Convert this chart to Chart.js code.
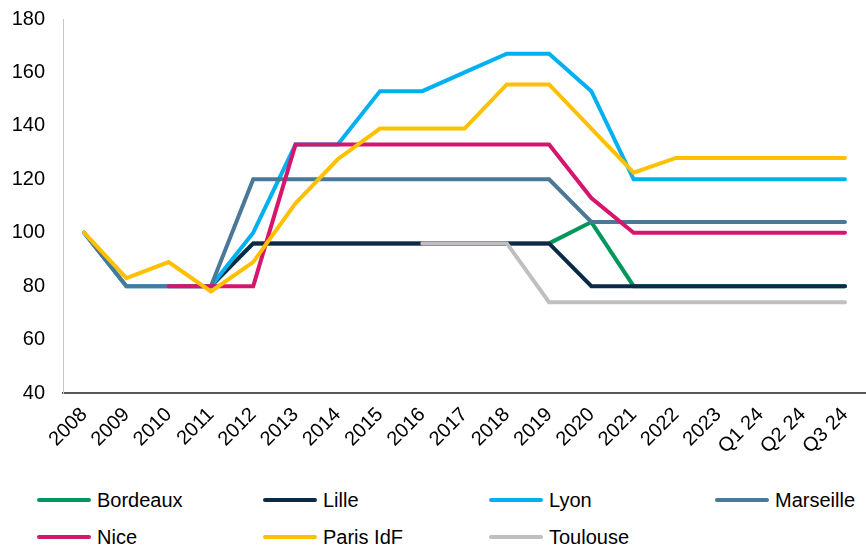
<!DOCTYPE html>
<html>
<head>
<meta charset="utf-8">
<script src="https://cdn.jsdelivr.net/npm/chart.js@4/dist/chart.umd.min.js"></script>
<style>
  html, body { margin: 0; padding: 0; background: #fff; overflow: hidden; width: 866px; height: 545px; }
  body { position: relative; }
  #wrap { position: absolute; left: 0; top: -11px; width: 872px; height: 491px; }
  #legend { position: absolute; left: 0; top: 480px; width: 866px; height: 65px; font-family: "Liberation Sans", Arial, sans-serif; font-size: 20px; color: #000; }
  .item { position: absolute; display: flex; align-items: center; height: 24px; }
  .swatch { width: 54px; height: 4px; border-radius: 2px; margin-right: 6px; }
</style>
</head>
<body>
<div id="wrap"><canvas id="c" width="872" height="491"></canvas></div>
<div id="legend"></div>
<script>
// Index values (2008 = 100) per city
const labels = ['2008','2009','2010','2011','2012','2013','2014','2015','2016','2017','2018','2019','2020','2021','2022','2023','Q1 24','Q2 24','Q3 24'];

const bordeaux  = [null, null, null, 80, 96, 96, 96, 96, 96, 96, 96, 96, 104, 80, 80, 80, 80, 80, 80];
const lille     = [null, null, null, 80, 96, 96, 96, 96, 96, 96, 96, 96, 80, 80, 80, 80, 80, 80, 80];
const lyon      = [100, 80, 80, 80, 100, 133, 133, 153, 153, 160, 167, 167, 153, 120, 120, 120, 120, 120, 120];
const marseille = [100, 80, 80, 80, 120, 120, 120, 120, 120, 120, 120, 120, 104, 104, 104, 104, 104, 104, 104];
const nice      = [null, null, 80, 80, 80, 133, 133, 133, 133, 133, 133, 133, 113, 100, 100, 100, 100, 100, 100];
const paris     = [100, 83, 89, 78, 89, 111, 127.5, 139, 139, 139, 155.5, 155.5, 139, 122.5, 128, 128, 128, 128, 128];
const toulouse  = [null, null, null, null, null, null, null, null, 96, 96, 96, 74, 74, 74, 74, 74, 74, 74, 74];

const seriesNames = ['Bordeaux', 'Lille', 'Lyon', 'Marseille', 'Nice', 'Paris IdF', 'Toulouse'];
const seriesData = [bordeaux, lille, lyon, marseille, nice, paris, toulouse];
const seriesColors = ['#00975C', '#0A2A47', '#00B0F0', '#4A7898', '#D6166C', '#FFC000', '#BFBFBF'];

const FONT = '"Liberation Sans", Arial, sans-serif';

// later series are painted over earlier ones
const datasets = seriesNames.map((name, i) => ({
  label: name,
  data: seriesData[i],
  order: seriesNames.length - i,
  borderColor: seriesColors[i],
  backgroundColor: seriesColors[i],
  borderWidth: 4,
  pointRadius: 0,
  pointHoverRadius: 0,
  tension: 0,
  fill: false,
  spanGaps: false,
  borderCapStyle: 'round',
  borderJoinStyle: 'miter'
}));

new Chart(document.getElementById('c'), {
  type: 'line',
  data: { labels, datasets },
  options: {
    responsive: false,
    animation: false,
    devicePixelRatio: 1,
    layout: { padding: { top: 9, left: 0, right: 2, bottom: 0 } },
    plugins: { legend: { display: false }, tooltip: { enabled: false } },
    scales: {
      x: {
        offset: true,
        grid: { display: false, drawTicks: false },
        border: { display: true, color: '#595959', width: 2 },
        ticks: {
          autoSkip: false,
          maxRotation: 45,
          minRotation: 45,
          padding: 10,
          color: '#000',
          font: { family: FONT, size: 20 }
        },
        afterFit(scale) { scale.height = 87; }
      },
      y: {
        min: 40,
        max: 180,
        grid: { display: false, drawTicks: false },
        border: { display: true, color: '#C8C8C8', width: 1 },
        ticks: {
          stepSize: 20,
          padding: 18,
          color: '#000',
          font: { family: FONT, size: 20 }
        },
        afterFit(scale) { scale.width = 63; }
      }
    }
  }
});

// Legend laid out in a 4-column grid
const legend = document.getElementById('legend');
const colX = [37, 263, 489, 715];
const rowY = [8, 45];
seriesNames.forEach((name, i) => {
  const item = document.createElement('div');
  item.className = 'item';
  item.style.left = colX[i % 4] + 'px';
  item.style.top = rowY[Math.floor(i / 4)] + 'px';
  const sw = document.createElement('span');
  sw.className = 'swatch';
  sw.style.background = seriesColors[i];
  const tx = document.createElement('span');
  tx.textContent = name;
  item.appendChild(sw);
  item.appendChild(tx);
  legend.appendChild(item);
});
</script>
</body>
</html>
